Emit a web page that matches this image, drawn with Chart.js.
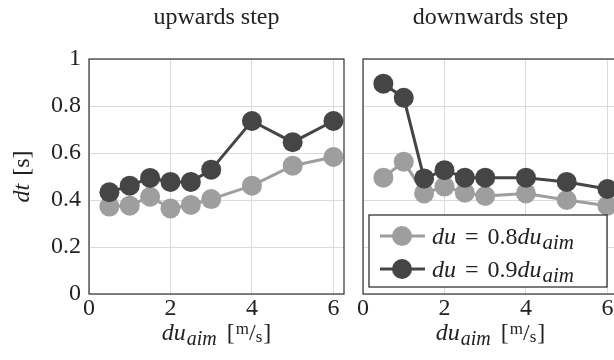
<!DOCTYPE html>
<html>
<head>
<meta charset="utf-8">
<script src="https://cdn.jsdelivr.net/npm/chart.js@4.4.0/dist/chart.umd.min.js"></script>
<style>
  html, body { margin: 0; padding: 0; background: #fff; overflow: hidden; }
  #wrap { position: relative; width: 614px; height: 360px; overflow: hidden; }
  canvas { position: absolute; top: 0; }
  #left { left: 0; }
  #right { left: 350px; }
</style>
</head>
<body>
<div id="wrap">
  <canvas id="left" width="354" height="360"></canvas>
  <canvas id="right" width="280" height="360"></canvas>
</div>
<script>
// data
const duAim = [0.5, 1, 1.5, 2, 2.5, 3, 4, 5, 6];
const upLow = [0.372, 0.376, 0.414, 0.364, 0.379, 0.404, 0.461, 0.546, 0.583];
const upHigh = [0.433, 0.461, 0.494, 0.477, 0.477, 0.529, 0.736, 0.646, 0.736];
const downLow = [0.495, 0.563, 0.428, 0.457, 0.431, 0.417, 0.428, 0.400, 0.376];
const downHigh = [0.895, 0.835, 0.492, 0.527, 0.495, 0.495, 0.495, 0.477, 0.447];
const xTicks = [0, 2, 4, 6];
const yTicks = [0, 0.2, 0.4, 0.6, 0.8, 1];
const panelTitles = ["upwards step", "downwards step"];
const factors = ["0.8", "0.9"];

const lightGray = "#9e9e9e";
const darkGray = "#454545";
const gridColor = "#dadada";
const frameColor = "#333333";
const serif = "'Liberation Serif', 'DejaVu Serif', serif";
const fontSize = 24;

// draw text made of several parts (italic math, subscripts ...)
function drawRich(ctx, parts, x, y, align) {
  let total = 0;
  parts.forEach(p => {
    ctx.font = (p.italic ? "italic " : "") + p.size + "px " + serif;
    p.w = ctx.measureText(p.text).width;
    total += p.w + (p.gap || 0);
  });
  let cx = align === "center" ? x - total / 2 : x;
  ctx.textBaseline = "alphabetic";
  ctx.textAlign = "left";
  parts.forEach(p => {
    ctx.font = (p.italic ? "italic " : "") + p.size + "px " + serif;
    ctx.fillText(p.text, cx, y + (p.dy || 0));
    cx += p.w + (p.gap || 0);
  });
}

function xLabelParts() {
  return [
    { text: "du", italic: true, size: fontSize, gap: 1 },
    { text: "aim", italic: true, size: 20, dy: 5, gap: 10 },
    { text: "[", size: fontSize, gap: 1 },
    { text: "m", size: 17, dy: -6 },
    { text: "/", size: fontSize },
    { text: "s", size: 17, dy: 2, gap: 1 },
    { text: "]", size: fontSize }
  ];
}

function legendParts(f) {
  return [
    { text: "du", italic: true, size: fontSize, gap: 9 },
    { text: "=", size: fontSize, gap: 9 },
    { text: f, size: fontSize },
    { text: "du", italic: true, size: fontSize, gap: 1 },
    { text: "aim", italic: true, size: 21, dy: 5 }
  ];
}

const decorPlugin = {
  id: "decor",
  afterDraw(chart) {
    const ctx = chart.ctx;
    const a = chart.chartArea;
    const o = chart.options.plugins.decor;
    ctx.save();
    ctx.strokeStyle = frameColor;
    ctx.lineWidth = 1.2;
    ctx.strokeRect(a.left, a.top, a.right - a.left, a.bottom - a.top);

    ctx.fillStyle = "#222";
    ctx.font = fontSize + "px " + serif;
    ctx.textAlign = "center";
    ctx.textBaseline = "alphabetic";
    ctx.fillText(o.title, (a.left + a.right) / 2, 24);

    drawRich(ctx, xLabelParts(), (a.left + a.right) / 2, 340, "center");

    if (o.yLabel) {
      ctx.save();
      ctx.translate(29, (a.top + a.bottom) / 2);
      ctx.rotate(-Math.PI / 2);
      drawRich(ctx, [
        { text: "dt", italic: true, size: fontSize, gap: 8 },
        { text: "[s]", size: fontSize }
      ], 0, 0, "center");
      ctx.restore();
    }

    if (o.legend) {
      const bx = a.right - 11 - 238, by = a.bottom - 7 - 72;
      ctx.fillStyle = "#fff";
      ctx.fillRect(bx, by, 238, 72);
      ctx.strokeStyle = "#222";
      ctx.lineWidth = 1.2;
      ctx.strokeRect(bx, by, 238, 72);
      chart.data.datasets.forEach((ds, i) => {
        const ry = by + 21 + i * 33;
        ctx.strokeStyle = ds.borderColor;
        ctx.lineWidth = 3;
        ctx.beginPath();
        ctx.moveTo(bx + 11, ry);
        ctx.lineTo(bx + 56, ry);
        ctx.stroke();
        ctx.fillStyle = ds.borderColor;
        ctx.beginPath();
        ctx.arc(bx + 33, ry, 10, 0, Math.PI * 2);
        ctx.fill();
        ctx.fillStyle = "#222";
        drawRich(ctx, legendParts(factors[i]), bx + 63, ry + 8, "left");
      });
    }
    ctx.restore();
  }
};

function makeChart(id, low, high, opts) {
  const ctx = document.getElementById(id).getContext("2d");
  return new Chart(ctx, {
    type: "line",
    data: {
      labels: duAim,
      datasets: [
        {
          label: "du = 0.8du_aim",
          data: duAim.map((x, i) => ({ x: x, y: low[i] })),
          borderColor: lightGray,
          backgroundColor: lightGray,
          borderWidth: 3,
          pointRadius: 10,
          pointBorderWidth: 0,
          pointBackgroundColor: lightGray,
          order: 1,
          clip: false
        },
        {
          label: "du = 0.9du_aim",
          data: duAim.map((x, i) => ({ x: x, y: high[i] })),
          borderColor: darkGray,
          backgroundColor: darkGray,
          borderWidth: 3,
          pointRadius: 10,
          pointBorderWidth: 0,
          pointBackgroundColor: darkGray,
          order: 0,
          clip: false
        }
      ]
    },
    options: {
      responsive: false,
      animation: false,
      layout: { padding: { top: 59, left: 0, right: opts.padRight, bottom: 0 } },
      plugins: {
        legend: { display: false },
        tooltip: { enabled: false },
        decor: { title: opts.title, yLabel: opts.yLabel, legend: opts.legend }
      },
      scales: {
        x: {
          type: "linear",
          min: 0,
          max: 6.26,
          afterBuildTicks: s => { s.ticks = xTicks.map(v => ({ value: v })); },
          afterFit: s => { s.height = 66; },
          grid: { color: gridColor, drawTicks: false },
          border: { display: false },
          ticks: {
            color: "#222",
            padding: 0,
            maxRotation: 0,
            font: { family: serif, size: fontSize }
          }
        },
        y: {
          min: 0,
          max: 1,
          afterBuildTicks: s => { s.ticks = yTicks.map(v => ({ value: v })); },
          afterFit: s => { s.width = opts.yWidth; },
          grid: { color: gridColor, drawTicks: false },
          border: { display: false },
          ticks: {
            display: opts.yLabel,
            color: "#222",
            padding: 8,
            font: { family: serif, size: fontSize },
            callback: v => String(+v.toFixed(1))
          }
        }
      }
    },
    plugins: [decorPlugin]
  });
}

makeChart("left", upLow, upHigh, { title: panelTitles[0], yLabel: true, legend: false, padRight: 10, yWidth: 89 });
makeChart("right", downLow, downHigh, { title: panelTitles[1], yLabel: false, legend: true, padRight: 12, yWidth: 13 });
</script>
</body>
</html>
